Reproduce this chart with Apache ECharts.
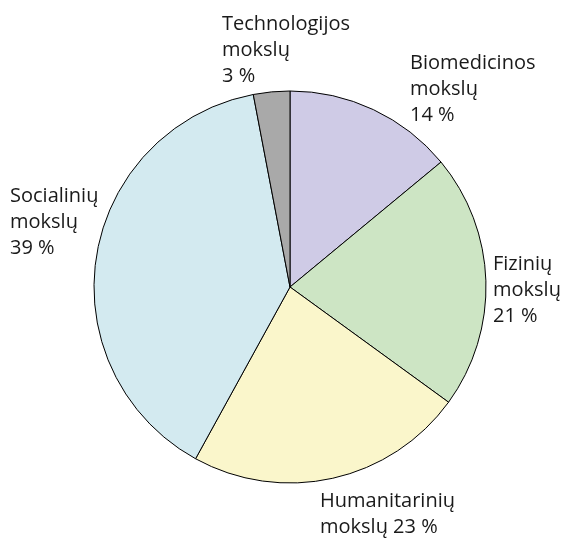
<!DOCTYPE html>
<html>
<head>
<meta charset="utf-8">
<script src="https://cdn.jsdelivr.net/npm/echarts@6/dist/echarts.min.js"></script>
<style>
  html, body { margin: 0; padding: 0; background: #fff; }
  #chart { width: 565px; height: 538px; }
</style>
</head>
<body>
<div id="chart"></div>
<script>
// mokslo sritys, pagal laikrodžio rodyklę nuo viršaus
const categories = ['Biomedicinos', 'Fizinių', 'Humanitarinių', 'Socialinių', 'Technologijos'];
const shares = [14, 21, 23, 39, 3];
const labelTexts = [
  'Biomedicinos\nmokslų\n14 %',
  'Fizinių\nmokslų\n21 %',
  'Humanitarinių\nmokslų 23 %',
  'Socialinių\nmokslų\n39 %',
  'Technologijos\nmokslų\n3 %'
];
const colors = ['#cfcbe6', '#cde5c4', '#faf6cb', '#d3eaf0', '#a9a9a9'];

// label top-left corners
const labelPos = [
  [410, 50],
  [493, 251],
  [320, 488],
  [10, 183],
  [222, 11]
];

const myChart = echarts.init(document.getElementById('chart'));

myChart.setOption({
  animation: false,
  series: [{
    type: 'pie',
    center: [290, 287],
    radius: 196,
    startAngle: 90,
    clockwise: true,
    itemStyle: {
      borderColor: '#000',
      borderWidth: 1
    },
    label: {
      show: true,
      position: 'outside',
      color: '#1a1a1a',
      fontSize: 20,
      lineHeight: 26,
      fontFamily: 'Open Sans',
      align: 'left',
      overflow: 'none',
      formatter: p => labelTexts[p.dataIndex]
    },
    labelLine: { show: false },
    labelLayout: params => ({
      x: labelPos[params.dataIndex][0],
      y: labelPos[params.dataIndex][1],
      align: 'left',
      verticalAlign: 'top',
      hideOverlap: false
    }),
    emphasis: { disabled: true },
    data: categories.map((c, i) => ({
      name: c,
      value: shares[i],
      itemStyle: { color: colors[i] }
    }))
  }]
});

window.addEventListener('resize', () => myChart.resize());
</script>
</body>
</html>
